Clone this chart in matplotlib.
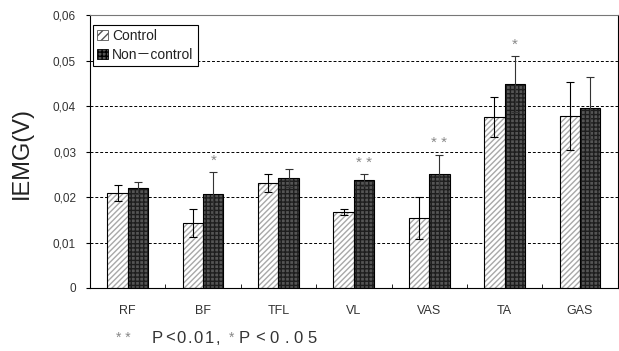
import numpy as np
import matplotlib.pyplot as plt
from matplotlib.patches import Patch

plt.rcParams['font.family'] = ['Liberation Sans', 'Noto Sans CJK KR', 'DejaVu Sans']

muscles = ["RF", "BF", "TFL", "VL", "VAS", "TA", "GAS"]
control_mean = [0.0209, 0.0143, 0.0231, 0.0167, 0.0154, 0.0376, 0.0378]
control_sd = [0.0018, 0.0031, 0.0020, 0.0007, 0.0047, 0.0044, 0.0075]
noncontrol_mean = [0.0220, 0.0207, 0.0242, 0.0237, 0.0250, 0.0448, 0.0396]
noncontrol_sd = [0.0014, 0.0047, 0.0020, 0.0013, 0.0043, 0.0061, 0.0068]
# significance marks above the non-control bars
stars = ["", "*", "", "**", "**", "*", ""]
yticks = [0, 0.01, 0.02, 0.03, 0.04, 0.05, 0.06]
ytick_labels = ["0", "0,01", "0,02", "0,03", "0,04", "0,05", "0,06"]

x = np.arange(len(muscles))
w = 0.27
W, H = 619, 351

fig = plt.figure(figsize=(W / 100, H / 100), dpi=100)
ax = fig.add_axes([0.1454, 0.1795, 0.8525, 0.7775])

# control: light hatched bars
ax.bar(x - w / 2, control_mean, w, color="white", edgecolor="#a8a8a8",
       hatch="//////", linewidth=0, zorder=2)
ax.bar(x - w / 2, control_mean, w, fill=False, edgecolor="black",
       linewidth=0.8, zorder=3)
# non-control: dark textured bars
ax.bar(x + w / 2, noncontrol_mean, w, color="#555555", edgecolor="#1e1e1e",
       hatch="++++", linewidth=0, zorder=2)
ax.bar(x + w / 2, noncontrol_mean, w, fill=False, edgecolor="black",
       linewidth=0.8, zorder=3)

ax.errorbar(x - w / 2, control_mean, yerr=control_sd, fmt="none",
            ecolor="black", elinewidth=0.8, capsize=3, capthick=0.8, zorder=4)
ax.errorbar(x + w / 2, noncontrol_mean, yerr=noncontrol_sd, fmt="none",
            ecolor="#333333", elinewidth=0.8, capsize=3, capthick=0.8, zorder=4)

for i, s in enumerate(stars):
    if s:
        top = noncontrol_mean[i] + noncontrol_sd[i]
        ax.text(x[i] + w / 2, top + 0.0010, " ".join(s), ha="center", va="bottom",
                fontsize=11, color="#888888")

handles = [Patch(facecolor="white", edgecolor="#555555", hatch="////", linewidth=0.6),
           Patch(facecolor="#555555", edgecolor="black", hatch="++++", linewidth=0.6)]
leg = ax.legend(handles, ["Control", "Non\uff0dcontrol"], loc="upper left",
                bbox_to_anchor=(0.0, 0.975), fontsize=10, frameon=True,
                fancybox=False, edgecolor="black", framealpha=1,
                handlelength=0.8, handleheight=0.8, handletextpad=0.3,
                borderpad=0.3, labelspacing=0.35, borderaxespad=0.2)
leg.get_frame().set_linewidth(0.8)
for t in leg.get_texts():
    t.set_color("#222222")

ax.set_ylim(0, 0.06)
ax.set_xlim(-0.5, len(muscles) - 0.5)
ax.set_yticks(yticks)
ax.set_yticklabels(ytick_labels, fontsize=8.5, color="#333333")
ax.set_xticks(x)
ax.set_xticklabels(muscles, fontsize=9, color="#333333")
ax.set_xticks(np.arange(len(muscles) + 1) - 0.5, minor=True)
ax.tick_params(axis="x", which="major", length=0, pad=12)
ax.tick_params(axis="x", which="minor", length=3, direction="in", width=0.6)
ax.tick_params(axis="y", length=3, width=0.8, pad=7)

for yv in yticks[1:-1]:
    ax.axhline(yv, color="black", linestyle=(0, (3, 2)), linewidth=0.7, zorder=1)

for sp in ax.spines.values():
    sp.set_linewidth(0.8)
ax.spines["top"].set_color("#777777")
ax.spines["top"].set_linestyle((0, (1, 1)))

fig.text(0.036, 0.565, "IEMG(V)", rotation=90, ha="center", va="center",
         fontsize=17, color="#222222")


def spaced_text(x_px, y, s, size, color, track):
    # the scanned footnote is set with wide letter spacing
    r = fig.canvas.get_renderer()
    for ch in s:
        t = fig.text(x_px / W, y, ch, ha="left", va="center", fontsize=size, color=color)
        x_px += t.get_window_extent(r).width + track


fig.text(116 / W, 0.037, "* *", ha="left", va="center", fontsize=10, color="#888888")
spaced_text(152, 0.037, "P<0.01,", 12, "#333333", 1.8)
fig.text(229 / W, 0.037, "*", ha="left", va="center", fontsize=10, color="#888888")
spaced_text(239, 0.037, "P<0.05", 12, "#333333", 5)

fig.savefig("out.png", dpi=100)
